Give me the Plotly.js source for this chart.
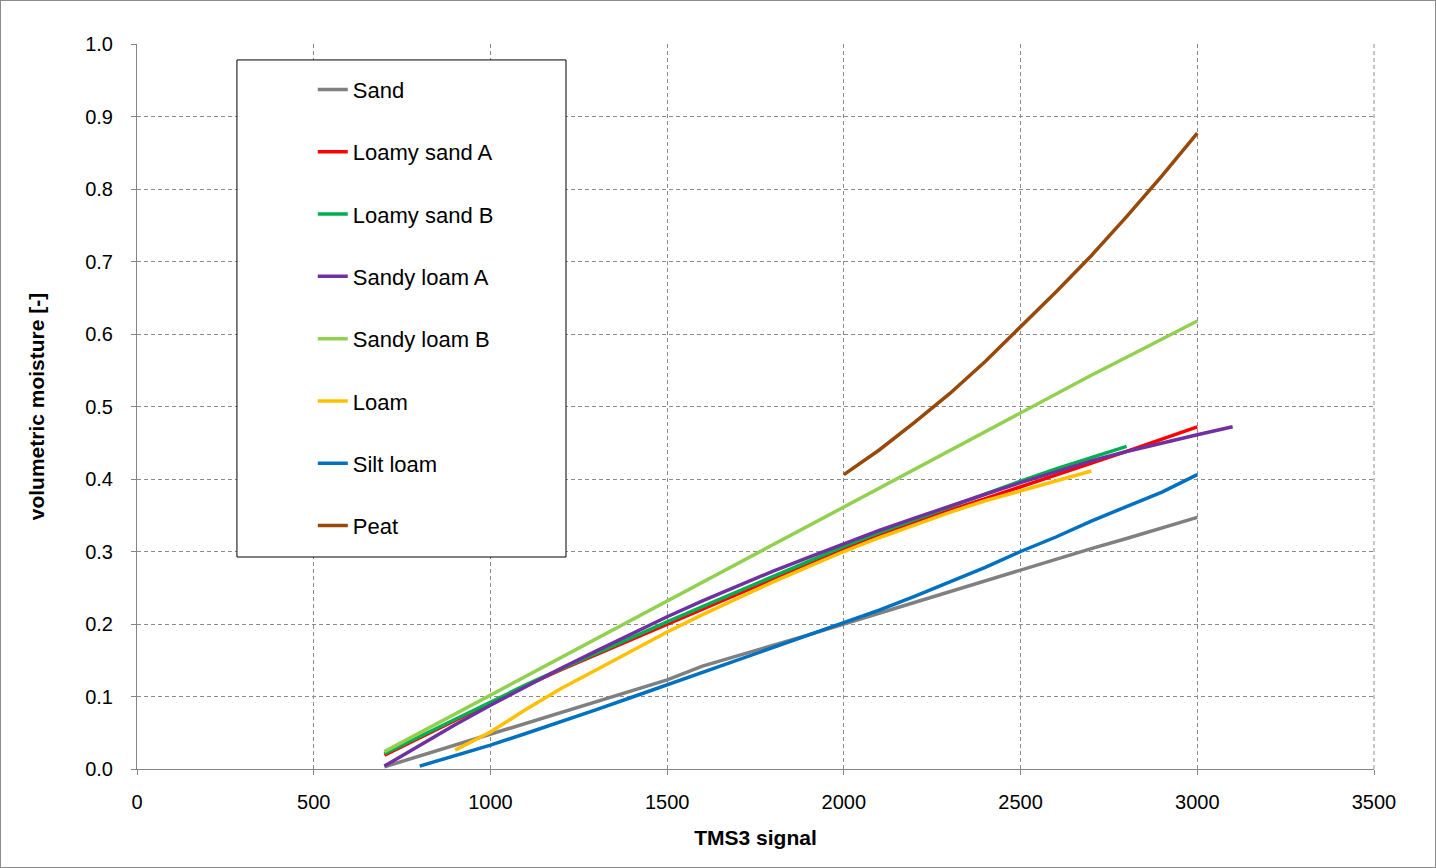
<!DOCTYPE html>
<html>
<head>
<meta charset="utf-8">
<title>TMS3 calibration curves</title>
<script src="https://cdn.plot.ly/plotly-3.0.1.min.js"></script>
<style>
  body { margin: 0; background: #fff; }
  #chart { position: absolute; left: 0; top: 0; width: 1436px; height: 868px; }
  #frame { position: absolute; left: 0; top: 0; width: 1436px; height: 868px;
           box-sizing: border-box; border: 1px solid #8c8c8c; pointer-events: none; }
</style>
</head>
<body>
<div id="chart"></div>
<div id="frame"></div>
<script>
// values, 100-step signal grid
const sandX = [700,800,900,1000,1100,1200,1300,1400,1500,1600,1700,1800,1900,2000,2100,2200,2300,2400,2500,2600,2700,2800,2900,3000];
const sandY = [0.003,0.018,0.033,0.048,0.063,0.078,0.093,0.108,0.123,0.142,0.156,0.170,0.185,0.200,0.215,0.230,0.245,0.260,0.275,0.289,0.304,0.318,0.333,0.347];

const loamySandAX = [700,800,900,1000,1100,1200,1300,1400,1500,1600,1700,1800,1900,2000,2100,2200,2300,2400,2500,2600,2700,2800,2900,3000];
const loamySandAY = [0.019,0.043,0.068,0.092,0.115,0.137,0.158,0.179,0.200,0.220,0.241,0.262,0.283,0.304,0.322,0.340,0.357,0.373,0.389,0.405,0.422,0.438,0.455,0.472];

const loamySandBX = [700,800,900,1000,1100,1200,1300,1400,1500,1600,1700,1800,1900,2000,2100,2200,2300,2400,2500,2600,2700,2800];
const loamySandBY = [0.021,0.045,0.069,0.093,0.116,0.138,0.160,0.182,0.203,0.224,0.245,0.265,0.286,0.307,0.326,0.344,0.362,0.380,0.397,0.414,0.430,0.445];

const sandyLoamAX = [700,800,900,1000,1100,1200,1300,1400,1500,1600,1700,1800,1900,2000,2100,2200,2300,2400,2500,2600,2700,2800,2900,3000,3100];
const sandyLoamAY = [0.004,0.033,0.061,0.088,0.114,0.139,0.163,0.187,0.210,0.232,0.253,0.273,0.292,0.311,0.329,0.346,0.363,0.379,0.395,0.410,0.425,0.438,0.450,0.461,0.472];

const sandyLoamBX = [700,800,900,1000,1100,1200,1300,1400,1500,1600,1700,1800,1900,2000,2100,2200,2300,2400,2500,2600,2700,2800,2900,3000];
const sandyLoamBY = [0.024,0.050,0.076,0.102,0.128,0.154,0.180,0.206,0.232,0.258,0.284,0.310,0.336,0.362,0.388,0.414,0.440,0.466,0.492,0.517,0.543,0.568,0.593,0.618];

const loamX = [900,1000,1100,1200,1300,1400,1500,1600,1700,1800,1900,2000,2100,2200,2300,2400,2500,2600,2700];
const loamY = [0.026,0.051,0.082,0.111,0.137,0.163,0.189,0.213,0.236,0.258,0.279,0.300,0.319,0.337,0.354,0.370,0.384,0.398,0.411];

const siltLoamX = [800,900,1000,1100,1200,1300,1400,1500,1600,1700,1800,1900,2000,2100,2200,2300,2400,2500,2600,2700,2800,2900,3000];
const siltLoamY = [0.004,0.018,0.033,0.049,0.065,0.082,0.099,0.116,0.133,0.150,0.167,0.184,0.201,0.219,0.238,0.258,0.278,0.300,0.320,0.342,0.362,0.382,0.406];

const peatX = [2000,2100,2200,2300,2400,2500,2600,2700,2800,2900,3000];
const peatY = [0.406,0.440,0.478,0.518,0.562,0.610,0.658,0.708,0.762,0.818,0.877];

const seriesNames = ['Sand','Loamy sand A','Loamy sand B','Sandy loam A','Sandy loam B','Loam','Silt loam','Peat'];
const seriesColors = ['#808080','#ff0000','#00b050','#7030a0','#92d050','#ffc000','#0070c0','#984807'];
const seriesData = [
  [sandX, sandY], [loamySandAX, loamySandAY], [loamySandBX, loamySandBY],
  [sandyLoamAX, sandyLoamAY], [sandyLoamBX, sandyLoamBY], [loamX, loamY],
  [siltLoamX, siltLoamY], [peatX, peatY]
];

const traces = seriesData.map((d, i) => ({
  x: d[0],
  y: d[1],
  type: 'scatter',
  mode: 'lines',
  name: seriesNames[i],
  legendgroup: 'g' + i,
  line: { color: seriesColors[i], width: 3.5 }
}));

const FONT = 'Liberation Sans, Arial, sans-serif';
const GRID = '#8c8c8c';

const layout = {
  width: 1436,
  height: 868,
  margin: { l: 137, r: 62, t: 44, b: 99 },
  paper_bgcolor: '#fff',
  plot_bgcolor: '#fff',
  font: { family: FONT, size: 20, color: '#000' },
  showlegend: true,
  legend: {
    x: 0.1421, y: 0.966, xanchor: 'left', yanchor: 'top',
    bgcolor: 'rgba(0,0,0,0)',
    borderwidth: 0,
    tracegroupgap: 30.7,
    font: { family: FONT, size: 22, color: '#000' }
  },
  xaxis: {
    range: [0, 3500],
    dtick: 500,
    tick0: 0,
    showline: true, linecolor: '#868686', linewidth: 1,
    showgrid: true, gridcolor: GRID, gridwidth: 1, griddash: '4px,3px',
    zeroline: false,
    ticks: 'outside', ticklen: 5, tickcolor: '#868686',
    ticklabelstandoff: 10,
    tickfont: { family: FONT, size: 20, color: '#000' },
    title: { text: '<b>TMS3 signal</b>', font: { family: FONT, size: 21, color: '#000' }, standoff: 18 }
  },
  yaxis: {
    range: [0, 1.0],
    dtick: 0.1,
    tick0: 0,
    tickformat: '.1f',
    showline: true, linecolor: '#868686', linewidth: 1,
    showgrid: true, gridcolor: GRID, gridwidth: 1, griddash: '4px,3px',
    zeroline: false,
    ticks: 'outside', ticklen: 5, tickcolor: '#868686',
    ticklabelstandoff: 14,
    tickfont: { family: FONT, size: 20, color: '#000' },
    title: { text: '<b>volumetric moisture [-]</b>', font: { family: FONT, size: 21, color: '#000' }, standoff: 34 }
  },
  shapes: [
    {
      // right-hand grid line at 3500, which plotly leaves out at the edge
      type: 'line', xref: 'paper', yref: 'paper',
      x0: 1, x1: 1, y0: 0, y1: 1,
      line: { color: GRID, width: 1, dash: '4px,3px' },
      layer: 'below'
    },
    {
      type: 'rect', xref: 'paper', yref: 'paper',
      x0: 0.0808, x1: 0.3468, y0: 0.2924, y1: 0.978,
      line: { color: '#000', width: 1 },
      fillcolor: '#fff',
      layer: 'above'
    }
  ]
};

Plotly.newPlot('chart', traces, layout, { displayModeBar: false, staticPlot: true });
</script>
</body>
</html>
